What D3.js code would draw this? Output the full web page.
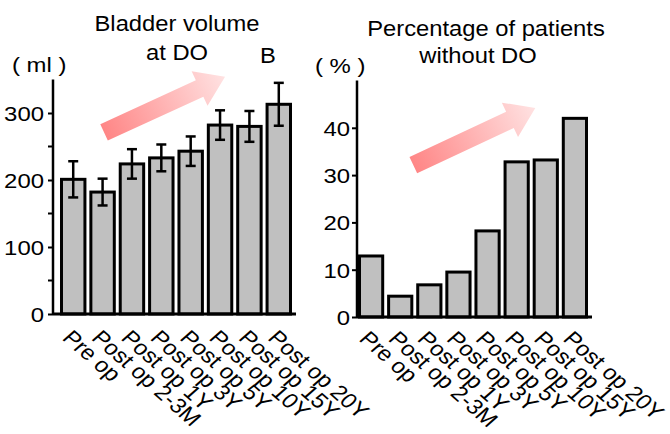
<!DOCTYPE html>
<meta charset="utf-8">
<html>
<head>
<script src="https://d3js.org/d3.v7.min.js"></script>
<style>
  body { margin: 0; background: #fff; }
  svg text { font-family: Arial, "Liberation Sans", sans-serif; fill: #000; }
</style>
</head>
<body>
<script>
// categories shared by both panels
var categories = ["Pre op", "Post op 2-3M", "Post op 1Y", "Post op 3Y",
                  "Post op 5Y", "Post op 10Y", "Post op 15Y", "Post op 20Y"];

// panel B left: bladder volume at DO (ml), mean and error
var volumeMean = [201, 182, 224, 233, 243, 282, 280, 313];
var volumeErr  = [27, 20, 22, 20, 22, 22, 23, 32];
var volumeTicks = [0, 100, 200, 300];
var volumeMinor = [50, 150, 250];

// panel B right: percentage of patients without DO
var percentValues = [12.9, 4.4, 6.8, 9.5, 18.2, 32.8, 33.2, 42];
var percentTicks = [0, 10, 20, 30, 40];

var W = 670, H = 434;
var SX = 1.14;   // the original figure is a bit wider than tall, text included

var svg = d3.select("body").append("svg")
    .attr("width", W).attr("height", H);

var defs = svg.append("defs");
var grad = defs.append("linearGradient").attr("id", "arrowGrad")
    .attr("x1", "0%").attr("x2", "100%").attr("y1", "0%").attr("y2", "0%");
grad.append("stop").attr("offset", "0%").attr("stop-color", "#ff8686");
grad.append("stop").attr("offset", "100%").attr("stop-color", "#ffe2e2");

function drawPanel(opt) {
  var x = d3.scaleBand().domain(categories)
      .range(opt.xr).paddingInner(0.1).paddingOuter(0);
  var y = d3.scaleLinear().domain(opt.domain).range(opt.yr);
  var g = svg.append("g");

  // arrow (behind bars), endpoints in band units / data values
  var bx = function(u) { return opt.xr[0] + u * x.step(); };
  var t0 = [bx(opt.arrow[0]), y(opt.arrow[1])];
  var t1 = [bx(opt.arrow[2]), y(opt.arrow[3])];
  var len = Math.hypot(t1[0] - t0[0], t1[1] - t0[1]);
  var ang = Math.atan2(t1[1] - t0[1], t1[0] - t0[0]) * 180 / Math.PI;
  var sw = 9, hw = 19, hl = 28;
  g.append("path")
    .attr("d", "M0," + (-sw) + "L" + (len - hl) + "," + (-sw) + "L" + (len - hl) + "," + (-hw) +
               "L" + len + ",0L" + (len - hl) + "," + hw + "L" + (len - hl) + "," + sw + "L0," + sw + "Z")
    .attr("fill", "url(#arrowGrad)")
    .attr("transform", "translate(" + t0[0] + "," + t0[1] + ") rotate(" + ang + ")");

  // bars
  g.selectAll("rect.bar").data(opt.values).enter().append("rect")
    .attr("class", "bar")
    .attr("x", function(d, i) { return x(categories[i]) + 1.5; })
    .attr("width", x.bandwidth() - 3)
    .attr("y", function(d) { return y(d); })
    .attr("height", function(d) { return y(0) - y(d); })
    .attr("fill", "#c0c0c0").attr("stroke", "#000").attr("stroke-width", 3);

  // error bars
  if (opt.err) {
    var eb = g.selectAll("g.err").data(opt.values).enter().append("g")
      .attr("stroke", "#000").attr("stroke-width", 2.5);
    eb.append("line")
      .attr("x1", function(d, i) { return x(categories[i]) + x.bandwidth() / 2; })
      .attr("x2", function(d, i) { return x(categories[i]) + x.bandwidth() / 2; })
      .attr("y1", function(d, i) { return y(d - opt.err[i]); })
      .attr("y2", function(d, i) { return y(d + opt.err[i]); });
    [-1, 1].forEach(function(s) {
      eb.append("line")
        .attr("x1", function(d, i) { return x(categories[i]) + x.bandwidth() / 2 - 5; })
        .attr("x2", function(d, i) { return x(categories[i]) + x.bandwidth() / 2 + 5; })
        .attr("y1", function(d, i) { return y(d + s * opt.err[i]); })
        .attr("y2", function(d, i) { return y(d + s * opt.err[i]); });
    });
  }

  // y axis
  var ax = opt.axisX;
  var yAxis = g.append("g").attr("transform", "translate(" + ax + ",0)")
    .call(d3.axisLeft(y).tickValues(opt.ticks).tickSize(5));
  yAxis.select(".domain").attr("d", "M0," + y(opt.domain[1]) + "V" + y(0))
    .attr("stroke-width", 2.5);
  yAxis.selectAll(".tick line").attr("stroke-width", 2);
  yAxis.selectAll(".tick text")
    .attr("x", 0).attr("dy", "0.35em")
    .attr("transform", "translate(" + opt.labelPad + ",0) scale(" + SX + ",1)")
    .style("font-size", "21px")
    .style("font-family", "Arial, 'Liberation Sans', sans-serif").attr("fill", "#000");
  if (opt.minor) {
    yAxis.selectAll(".minor").data(opt.minor).enter().append("line")
      .attr("x1", -5).attr("x2", 0)
      .attr("y1", function(d) { return y(d); }).attr("y2", function(d) { return y(d); })
      .attr("stroke", "#000").attr("stroke-width", 2);
  }

  // x axis baseline
  g.append("line")
    .attr("x1", ax).attr("x2", opt.xr[1] + 4)
    .attr("y1", y(0)).attr("y2", y(0))
    .attr("stroke", "#000").attr("stroke-width", 3);

  // rotated category labels
  g.selectAll("text.cat").data(categories).enter().append("text")
    .attr("class", "cat")
    .attr("transform", function(d) {
      return "translate(" + (x(d) + x.bandwidth() / 2 + opt.catDx) + "," + (y(0) + opt.catDy) +
             ") scale(" + SX + ",1) rotate(45)";
    })
    .style("font-size", "21px")
    .text(function(d) { return d; });

  // unit label and titles
  g.append("text")
    .attr("transform", "translate(" + opt.unit[1] + "," + opt.unit[2] + ") scale(" + SX + ",1)")
    .style("font-size", "21px").attr("xml:space", "preserve").text(opt.unit[0]);
  opt.title.forEach(function(t) {
    g.append("text")
      .attr("transform", "translate(" + t[1] + "," + t[2] + ") scale(1.08,1)")
      .attr("text-anchor", "middle").style("font-size", "22px").text(t[0]);
  });
}

drawPanel({
  values: volumeMean, err: volumeErr, domain: [0, 350], ticks: volumeTicks, minor: volumeMinor,
  xr: [60, 292], yr: [314, 79.5], axisX: 53, labelPad: -9, catDx: -12, catDy: 25,
  arrow: [1.5, 271, 5.62, 354],
  unit: ["( ml )", 12, 72],
  title: [["Bladder volume", 177, 31], ["at DO", 177, 60], ["B", 268, 63]]
});

drawPanel({
  values: percentValues, domain: [0, 50], ticks: percentTicks,
  xr: [358, 588], yr: [317, 80.5], axisX: 357, labelPad: -7, catDx: -13, catDy: 23,
  arrow: [1.9, 32.1, 6.09, 44.2],
  unit: ["( % )", 315, 73],
  title: [["Percentage of patients", 486, 36], ["without DO", 478, 63]]
});
</script>
</body>
</html>
